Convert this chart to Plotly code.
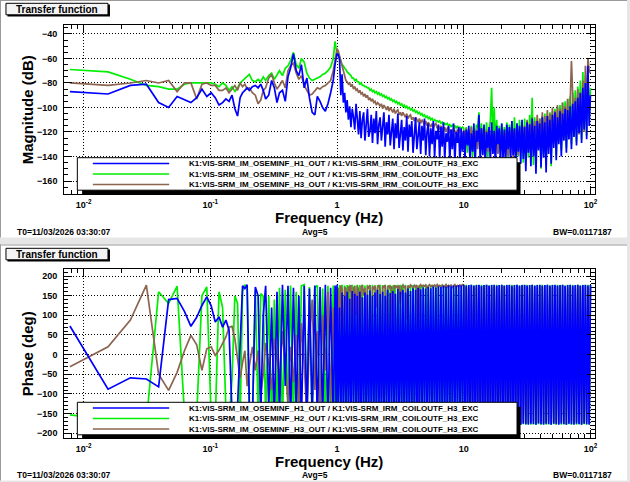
import plotly.graph_objs as go

W, H = 630, 482
FONT = 'Liberation Sans'

# frequency grid (Hz)
freq = [
    0.0078, 0.0156, 0.0234, 0.0313, 0.0391, 0.0469, 0.0547, 0.0625, 0.0703, 0.0781,
    0.0859, 0.0938, 0.1016, 0.1094, 0.1172,
    0.125, 0.1328, 0.1406, 0.1484, 0.1563, 0.1641, 0.1719, 0.1797, 0.1875, 0.1953,
    0.2031, 0.2148, 0.2266, 0.2383, 0.25, 0.2617, 0.2734, 0.2891, 0.3047, 0.3203,
    0.3359, 0.3516, 0.3711, 0.3906, 0.4102, 0.4297, 0.4531, 0.4766, 0.5, 0.5234,
    0.5508, 0.5781, 0.6055, 0.6367, 0.668, 0.6992, 0.7344, 0.7695, 0.8086, 0.8477,
    0.8906, 0.9336, 0.9648, 0.9844, 1.0,
    1.023, 1.047, 1.072, 1.096, 1.122, 1.148, 1.175, 1.202, 1.23, 1.259,
    1.288, 1.318, 1.349, 1.38, 1.413, 1.445, 1.479, 1.514, 1.549, 1.585,
    1.622, 1.66, 1.698, 1.738, 1.778, 1.82, 1.862, 1.905, 1.95, 1.995,
    2.042, 2.089, 2.138, 2.188, 2.239, 2.291, 2.344, 2.399, 2.455, 2.512,
    2.57, 2.63, 2.692, 2.754, 2.818, 2.884, 2.951, 3.02, 3.09, 3.162,
    3.236, 3.311, 3.388, 3.467, 3.548, 3.631, 3.715, 3.802, 3.89, 3.981,
    4.074, 4.169, 4.266, 4.365, 4.467, 4.571, 4.677, 4.786, 4.898, 5.012,
    5.129, 5.248, 5.37, 5.495, 5.623, 5.754, 5.888, 6.026, 6.166, 6.31,
    6.457, 6.607, 6.761, 6.918, 7.079, 7.244, 7.413, 7.586, 7.762, 7.943,
    8.128, 8.318, 8.511, 8.71, 8.913, 9.12, 9.333, 9.55, 9.772, 10.0,
    10.23, 10.47, 10.72, 10.96, 11.22, 11.48, 11.75, 12.02, 12.3, 12.59,
    12.88, 13.18, 13.49, 13.8, 14.13, 14.45, 14.79, 15.14, 15.49, 15.85,
    16.22, 16.6, 16.98, 17.38, 17.78, 18.2, 18.62, 19.05, 19.5, 19.95,
    20.42, 20.89, 21.38, 21.88, 22.39, 22.91, 23.44, 23.99, 24.55, 25.12,
    25.7, 26.3, 26.92, 27.54, 28.18, 28.84, 29.51, 30.2, 30.9, 31.62,
    32.36, 33.11, 33.88, 34.67, 35.48, 36.31, 37.15, 38.02, 38.9, 39.81,
    40.74, 41.69, 42.66, 43.65, 44.67, 45.71, 46.77, 47.86, 48.98, 50.12,
    51.29, 52.48, 53.7, 54.95, 56.23, 57.54, 58.88, 60.26, 61.66, 63.1,
    64.57, 66.07, 67.61, 69.18, 70.79, 72.44, 74.13, 75.86, 77.62, 79.43,
    81.28, 83.18, 85.11, 87.1, 89.13, 91.2, 93.33, 95.5, 97.72, 100.0,
]

# magnitude (dB)
mag_h1 = [
    -87, -89, -82, -81, -96, -100, -91, -94, -96, -92, -85, -91, -88, -92, -98,
    -96, -93, -95, -90, -101, -107, -92, -88, -86, -84, -86, -83, -82, -84, -81,
    -86, -93, -90, -78, -84, -96, -88, -86, -95, -75, -68, -56, -70, -74, -65,
    -84, -76, -92, -104, -106, -91, -95, -100, -103, -97, -88, -78, -65, -58, -56,
    -57, -61, -90, -73, -96, -88, -104, -94, -110, -99,
    -116, -101, -108, -118, -97, -112, -122, -103, -125, -110,
    -104, -127, -115, -101, -124, -119, -106, -129, -109, -121,
    -103, -130, -114, -108, -127, -118, -104, -132, -112, -122,
    -106, -131, -117, -109, -134, -113, -125, -105, -133, -119,
    -110, -135, -116, -127, -107, -136, -114, -124, -111, -137,
    -118, -108, -134, -121, -112, -138, -115, -127, -109, -139,
    -120, -113, -140, -117, -130, -111, -141, -119, -126, -114,
    -142, -116, -132, -112, -143, -121, -128, -115, -144, -118,
    -134, -113, -145, -120, -129, -116, -146, -117, -136, -119,
    -142, -118, -131, -115, -145, -121, -136, -113, -147, -119,
    -128, -106, -144, -117, -139, -114, -148, -120, -133, -116,
    -146, -112, -138, -119, -149, -115, -130, -117, -147, -113,
    -141, -118, -150, -114, -134, -116, -145, -111, -139, -117,
    -151, -113, -136, -115, -146, -110, -142, -116, -152, -112,
    -137, -114, -148, -109, -140, -115, -154, -111, -135, -113,
    -149, -108, -141, -112, -153, -107, -138, -110, -146, -106,
    -133, -104, -143, -108, -130, -103, -140, -105, -127, -101,
    -137, -102, -126, -99, -134, -97, -124, -95, -131, -92,
    -121, -88, -129, -84, -118, -80, -126, -66, -115, -90,
]
mag_h2 = [
    -69, -71, -77, -82, -83, -85, -85, -81, -80, -80, -80, -80, -80, -81, -83,
    -80, -82, -86, -83, -87, -84, -80, -78, -76, -74, -73, -78, -79, -77, -79,
    -75, -78, -74, -72, -77, -73, -70, -74, -68, -66, -62, -55, -65, -68, -60,
    -63, -72, -76, -78, -77, -76, -75, -73, -72, -70, -67, -60, -46, -52, -55,
    -56, -60, -62, -65, -66, -68, -69, -71, -72, -73,
    -74, -76, -76, -78, -77, -79, -79, -81, -80, -82,
    -82, -83, -83, -84, -84, -86, -85, -87, -86, -88,
    -87, -89, -88, -90, -89, -91, -90, -92, -91, -93,
    -92, -94, -93, -95, -94, -96, -95, -97, -96, -98,
    -97, -99, -98, -100, -99, -101, -100, -102, -101, -103,
    -102, -104, -103, -105, -104, -106, -105, -107, -106, -108,
    -107, -109, -108, -110, -109, -111, -110, -111, -111, -112,
    -111, -113, -112, -114, -113, -114, -113, -115, -114, -116,
    -114, -116, -115, -117, -115, -117, -116, -117, -116, -117,
    -131, -116, -137, -118, -128, -115, -140, -119, -126, -114,
    -117, -104, -133, -113, -138, -116, -129, -112, -141, -118,
    -111, -84, -126, -100, -130, -110, -136, -115, -131, -113,
    -139, -116, -128, -112, -142, -114, -130, -111, -137, -108,
    -133, -113, -140, -110, -127, -112, -145, -109, -134, -111,
    -141, -106, -131, -92, -147, -108, -136, -110, -129, -109,
    -150, -107, -138, -105, -144, -106, -132, -104, -148, -103,
    -130, -101, -139, -100, -126, -98, -135, -96, -124, -95,
    -133, -93, -122, -91, -130, -88, -120, -86, -128, -83,
    -118, -78, -126, -71, -115, -74, -123, -77, -110, -84,
]
mag_h3 = [
    -80, -82, -80, -78, -80, -78, -87, -80, -80, -93, -81, -80, -82, -82, -86,
    -86, -84, -88, -85, -82, -86, -80, -83, -81, -85, -84, -88, -90, -97, -94,
    -86, -84, -76, -73, -80, -85, -82, -78, -84, -70, -66, -64, -72, -77, -74,
    -82, -86, -90, -89, -86, -84, -85, -83, -82, -80, -78, -70, -60, -54, -52,
    -54, -58, -63, -68, -72, -75, -78, -79, -81, -80,
    -83, -81, -85, -83, -86, -85, -88, -86, -89, -88,
    -91, -89, -92, -90, -94, -92, -95, -93, -96, -95,
    -98, -96, -97, -99, -97, -101, -98, -100, -102, -99,
    -103, -100, -102, -104, -101, -105, -103, -102, -106, -104,
    -107, -104, -106, -108, -105, -109, -107, -106, -110, -108,
    -111, -108, -110, -112, -109, -113, -110, -112, -114, -111,
    -115, -112, -114, -116, -113, -117, -114, -113, -117, -115,
    -118, -115, -117, -119, -116, -120, -117, -116, -121, -118,
    -120, -117, -119, -122, -118, -121, -117, -120, -123, -119,
    -125, -117, -130, -119, -127, -116, -133, -120, -126, -118,
    -134, -121, -128, -117, -135, -120, -125, -118, -136, -121,
    -129, -119, -137, -122, -127, -118, -138, -121, -130, -117,
    -139, -120, -129, -116, -140, -119, -131, -115, -141, -118,
    -130, -114, -139, -117, -131, -112, -137, -115, -128, -110,
    -135, -113, -126, -108, -134, -111, -125, -106, -133, -109,
    -124, -104, -132, -107, -122, -102, -131, -105, -121, -100,
    -129, -103, -119, -98, -128, -101, -117, -96, -127, -99,
    -115, -93, -126, -96, -62, -90, -124, -92, -110, -85,
    -122, -88, -108, -78, -120, -66, -104, -60, -70, -72,
]

# phase (deg)
ph_h1 = [
    73, -88, -59, -62, -82, 140, 143, 110, 72, 95, 125, 147, 124, 83, 96,
    70, 88, 62, -150, -175, -130, 40, 175, 168, 178, -120, -170, 172, 150, -160,
    100, 175, -140, 120, -170, 160, -165, 178, -80, 175, -175, 170, -150, 150, -178,
    175, -172, 168, -160, 176, -178, 172, -170, 178, -176, 170, -175, 176, -172, 178,
    -150, 120, -172, 158, -176, 150, -170, 160, -178, 142,
    -174, 162, -168, 155, -177, 150, -172, 160, -176, 146,
    -170, 158, -178, 152, -174, 163, -171, 150, -177, 158,
    -173, 165, -178, 154, -172, 160, -176, 150, -174, 165,
    -178, 157, -173, 162, -177, 155, -175, 167, -178, 160,
    -174, 165, -177, 158, -176, 168, -178, 162, -175, 169,
    -177, 165, -178, 170, -176, 166, -178, 171, -177, 168,
    -176, 172, -178, 169, -177, 173, -176, 171, -178, 174,
    -177, 172, -176, 175, -178, 173, -177, 176, -176, 174,
    -178, 176, -177, 175, -176, 177, -178, 176, -177, 178,
    -177, 176, -178, 177, -176, 178, -177, 176, -178, 177,
    -176, 178, -177, 175, -178, 177, -176, 178, -177, 176,
    -178, 177, -175, 178, -177, 176, -178, 177, -176, 178,
    -177, 176, -178, 177, -176, 178, -177, 175, -178, 177,
    -176, 178, -177, 176, -178, 177, -176, 178, -177, 176,
    -178, 177, -176, 178, -177, 176, -178, 177, -175, 178,
    -177, 176, -178, 177, -176, 178, -177, 176, -178, 177,
    -176, 178, -177, 176, -178, 177, -176, 178, -177, 175,
    -178, 177, -176, 178, -177, 176, -178, 177, -176, 178,
    -177, 176, -178, 177, -176, 178, -177, 176, -178, 177,
]
ph_h2 = [
    -153, -165, -172, -170, 160, 130, 174, -150, -165, -155, 150, 172, -160, -170, 160,
    120, -140, -175, -60, 150, 130, -170, 160, 178, 170, -165, -178, 165, -150, 155,
    148, -160, 150, -178, 140, -170, 170, -175, 165, -160, 176, -170, 160, -175, 175,
    178, -168, 172, -176, 170, 176, -172, 168, -178, 175, -170, 176, -175, 172, -160,
    -178, 177, -176, 178, -177, 176, -178, 177, -176, 178,
    -177, 178, -178, 176, -177, 178, -176, 177, -178, 178,
    -177, 176, -178, 178, -176, 177, -178, 178, -177, 176,
    -178, 177, -176, 178, -178, 177, -176, 178, -177, 176,
    -178, 178, -177, 176, -178, 177, -176, 178, -177, 178,
    -176, 177, -178, 178, -177, 176, -178, 178, -176, 177,
    -178, 178, -177, 176, -178, 177, -176, 178, -177, 178,
    -178, 177, -176, 178, -177, 178, -178, 176, -177, 178,
    -176, 177, -178, 178, -177, 176, -178, 178, -176, 177,
    -178, 178, -177, 176, -178, 177, -176, 178, -177, 178,
    -177, 178, -178, 177, -176, 178, -177, 176, -178, 178,
    -177, 177, -178, 178, -176, 177, -178, 178, -177, 176,
    -178, 178, -177, 177, -178, 178, -176, 177, -178, 178,
    -177, 176, -178, 178, -177, 177, -178, 178, -176, 177,
    -178, 178, -177, 176, -178, 178, -177, 177, -178, 178,
    -176, 177, -178, 178, -177, 176, -178, 178, -177, 177,
    -178, 178, -176, 177, -178, 178, -177, 176, -178, 178,
    -177, 177, -178, 178, -176, 177, -178, 178, -177, 176,
    -178, 178, -177, 177, -178, 178, -176, 177, -178, 178,
    -177, 176, -178, 178, -177, 177, -178, 178, -176, 177,
]
ph_h3 = [
    -31, 20, 88, 177, -50, -91, -45, 10, 49, 25, -40, 15, 20, -2, 11,
    30, 45, 70, 72, 40, -10, -60, -20, 10, -80, -30, 20, -40, 10, -100,
    -50, 30, -20, -90, 40, -10, -60, 60, -30, -120, 20, -70, 50, -140, 80,
    -20, -160, 30, 140, -90, 60, -150, 100, -40, 160, -120, 120, -30, 170, 20,
    170, 60, 176, 165, -90, 172, 168, 40, 175, 160,
    177, -40, 170, 174, 100, 176, 165, -150, 172, 177,
    150, 170, 20, 175, 168, 177, -60, 173, 166, 176,
    120, 171, 177, 164, -110, 175, 170, 177, 60, 172,
    176, 167, 174, -20, 177, 170, 175, 168, 176, 130,
    173, 177, 169, 175, 90, 176, 170, 177, 174, 168,
    176, 172, 177, -130, 175, 178, 172, 176, 174, 177,
    170, 176, 178, 173, 176, 171, 177, 174, 178, 172,
    176, 173, 177, 170, 175, 178, 172, 176, 174, 177,
    171, 176, 178, 173, 176, 172, 177, 174, 178, 175,
    -170, 172, -175, 170, -172, 175, -168, 174, -176, 171,
    -173, 176, -170, 173, -175, 170, -172, 176, -169, 174,
    -176, 171, -173, 175, -170, 173, -175, 170, -172, 176,
    -169, 174, -176, 171, -173, 175, -170, 173, -175, 170,
    -172, 176, -169, 174, -176, 171, -173, 175, -170, 173,
    -175, 170, -172, 176, -169, 174, -176, 171, -173, 175,
    -170, 173, -175, 170, -172, 176, -169, 174, -176, 171,
    -173, 175, -170, 173, -175, 170, -172, 176, -169, 174,
    -176, 171, -173, 175, -170, 173, -175, 170, -172, 176,
    -169, 174, -176, 171, -173, 175, -170, 173, -175, 170,
]

channels = [
    'K1:VIS-SRM_IM_OSEMINF_H1_OUT / K1:VIS-SRM_IRM_COILOUTF_H3_EXC',
    'K1:VIS-SRM_IM_OSEMINF_H2_OUT / K1:VIS-SRM_IRM_COILOUTF_H3_EXC',
    'K1:VIS-SRM_IM_OSEMINF_H3_OUT / K1:VIS-SRM_IRM_COILOUTF_H3_EXC',
]
colors = ['#0000ff', '#00ee00', '#8c6450']
draw_order = [1, 2, 0]

freq_ticks = [0.01, 0.1, 1, 10, 100]
freq_labels = ['10<sup>-2</sup>', '10<sup>-1</sup>', '1', '10', '10<sup>2</sup>']
mag_ticks = [-160, -140, -120, -100, -80, -60, -40]
phase_ticks = [-200, -150, -100, -50, 0, 50, 100, 150, 200]

for series in (mag_h1, mag_h2, mag_h3, ph_h1, ph_h2, ph_h3):
    assert len(series) == len(freq), len(series)


def fx(x):
    return x / W


def fy(y):
    return 1 - y / H


def rect(x0, y0, x1, y1, fill, line=None, layer='above'):
    return dict(type='rect', xref='paper', yref='paper', layer=layer,
                x0=fx(x0), x1=fx(x1), y0=fy(y0), y1=fy(y1), fillcolor=fill,
                line=dict(width=1 if line else 0, color=line or fill))


def hline(x0, x1, y, color, width=1, layer='above'):
    return dict(type='line', xref='paper', yref='paper', layer=layer,
                x0=fx(x0), x1=fx(x1), y0=fy(y), y1=fy(y),
                line=dict(color=color, width=width))


def vline(x, y0, y1, color, width=1, layer='above'):
    return dict(type='line', xref='paper', yref='paper', layer=layer,
                x0=fx(x), x1=fx(x), y0=fy(y0), y1=fy(y1),
                line=dict(color=color, width=width))


def text(x, y, s, size, anchor='center', angle=0):
    return dict(xref='paper', yref='paper', x=fx(x), y=fy(y), text=s,
                showarrow=False, xanchor=anchor, yanchor='middle', textangle=angle,
                font=dict(family=FONT, size=size, color='black', weight='bold'))


def x_axis(domain, anchor):
    return dict(type='log', range=[-2.153, 2.037], domain=domain, anchor=anchor,
                showline=True, linecolor='black', linewidth=1, mirror='ticks',
                ticks='inside', ticklen=8, tickwidth=1, tickcolor='black',
                tickvals=freq_ticks, ticktext=freq_labels, ticklabelstandoff=2,
                tickfont=dict(family=FONT, size=9, color='black', weight='bold'),
                showgrid=True, gridcolor='black', gridwidth=1, griddash='1px,2px',
                minor=dict(dtick='D1', ticks='inside', ticklen=4, tickcolor='black', showgrid=False),
                zeroline=False)


def y_axis(domain, anchor, rng, ticks, minor):
    return dict(range=rng, domain=domain, anchor=anchor,
                showline=True, linecolor='black', linewidth=1, mirror='ticks',
                ticks='inside', ticklen=8, tickwidth=1, tickcolor='black',
                tickvals=ticks, ticklabelstandoff=4,
                tickfont=dict(family=FONT, size=9, color='black', weight='bold'),
                showgrid=True, gridcolor='black', gridwidth=1, griddash='1px,2px',
                minor=dict(dtick=minor, ticks='inside', ticklen=4, tickcolor='black', showgrid=False),
                zeroline=False)


def pad_decor(top):
    """Shapes and texts of one ROOT pad; top is the pad's first pixel row."""
    shapes, notes = [], []
    # title box
    shapes.append(rect(7.5, top + 4.5, 110.5, top + 16.5, 'black'))
    shapes.append(rect(6, top + 3.3, 108.5, top + 14.8, '#f4f4f4', 'black'))
    notes.append(text(57.5, top + 9.3, 'Transfer function', 10))
    # legend box
    ly = top + (157.7 if top == 0 else 157.3)
    shapes.append(rect(82.5, ly + 4.5, 523, ly + 36.5, 'black'))
    shapes.append(rect(77.7, ly, 519.5, ly + 32.5, 'white', 'black'))
    for i in range(3):
        row = ly + 5.8 + i * 10.5
        shapes.append(hline(93.3, 170, row, colors[i], 1.5))
        notes.append(text(187.5, row, channels[i], 8, anchor='left'))
    # footer
    fy_ = top + (231.8 if top == 0 else 229.5)
    notes.append(text(15, fy_, 'T0=11/03/2026 03:30:07', 8.5, anchor='left'))
    notes.append(text(316.5, fy_, 'Avg=5', 8.5))
    notes.append(text(617, fy_, 'BW=0.0117187', 8.5, anchor='right'))
    notes.append(text(331, top + (218 if top == 0 else 216), 'Frequency (Hz)', 15))
    return shapes, notes


fig = go.Figure()
mags = [mag_h1, mag_h2, mag_h3]
phases = [ph_h1, ph_h2, ph_h3]
for i in draw_order:
    fig.add_trace(go.Scatter(x=freq, y=mags[i], mode='lines', xaxis='x', yaxis='y',
                             line=dict(color=colors[i], width=1.7), showlegend=False))
for i in draw_order:
    fig.add_trace(go.Scatter(x=freq, y=phases[i], mode='lines', xaxis='x2', yaxis='y2',
                             line=dict(color=colors[i], width=1.7), showlegend=False))

shapes = [
    rect(0, 0, 630, 237.5, 'white', layer='below'),
    rect(0, 244.5, 630, 480.5, 'white', layer='below'),
    hline(0, 630, 0.5, '#9a9a9a', layer='below'),
    vline(0.5, 0, 237.5, '#9a9a9a', layer='below'),
    hline(0, 630, 245, '#9a9a9a', layer='below'),
    vline(0.5, 244.5, 480.5, '#9a9a9a', layer='below'),
]
notes = [
    text(28, 109.5, 'Magnitude (dB)', 15, angle=-90),
    text(28, 353.5, 'Phase (deg)', 15, angle=-90),
]
for top in (0, 245):
    s, n = pad_decor(top)
    shapes += s
    notes += n

xdom = [fx(64.5), fx(598)]
fig.update_layout(
    width=W, height=H, autosize=False,
    margin=dict(l=0, r=0, t=0, b=0),
    paper_bgcolor='#e6e6e6', plot_bgcolor='rgba(0,0,0,0)',
    showlegend=False,
    xaxis=x_axis(xdom, 'y'),
    yaxis=y_axis([fy(194), fy(25)], 'x', [-170.6, -32.7], mag_ticks, 5),
    xaxis2=x_axis(xdom, 'y2'),
    yaxis2=y_axis([fy(438), fy(269)], 'x2', [-212, 217.8], phase_ticks, 10),
    shapes=shapes,
    annotations=notes,
)

# the page body keeps a default margin; drop it so the figure sits at the window corner
fig.write_html("out.html", config={'displayModeBar': False},
               post_script="document.body.style.margin = '0';")
